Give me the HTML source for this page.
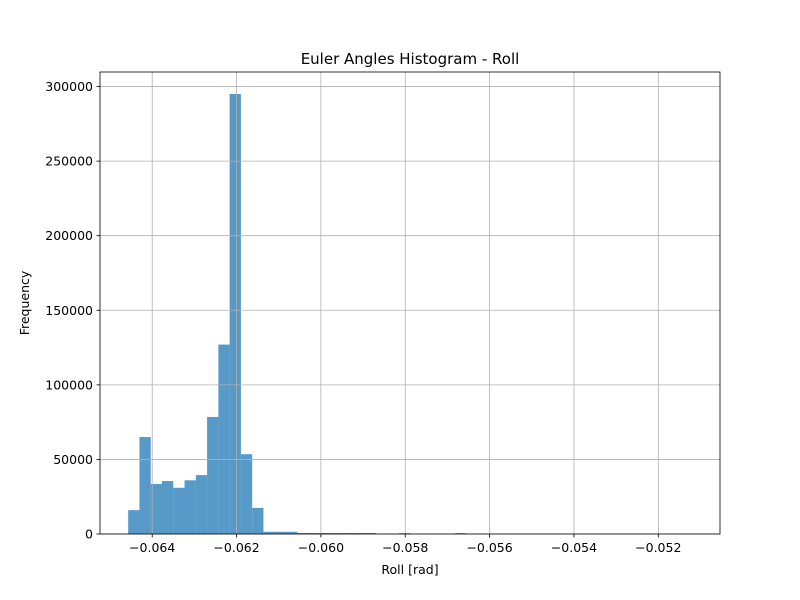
<!DOCTYPE html>
<html><head><meta charset="utf-8"><style>body{margin:0;background:#fff}svg{display:block;font-family:"DejaVu Sans","Liberation Sans",sans-serif}</style></head>
<body>
<svg id="chart" width="800" height="600" xmlns="http://www.w3.org/2000/svg">
<rect width="800" height="600" fill="#fff"/>
<text x="410" y="64" font-size="15" text-anchor="middle">Euler Angles Histogram - Roll</text>
<g id="bars"></g>
<g id="grid"></g>
<g id="axes"></g>
<text x="410" y="574" font-size="12.5" text-anchor="middle">Roll [rad]</text>
<text x="29" y="303" font-size="12.5" text-anchor="middle" transform="rotate(-90 29 303)">Frequency</text>
</svg>
<script>
const binStart = -0.06457;
const binWidth = 0.0002673;
const counts = [16000,65000,33500,35500,31000,36000,39500,78500,127000,295000,53500,17500,1500,1500,1500,700,700,700,700,700,700,700,0,0,600,0,0,0,0,600,0,0,0,0,0,0,0,0,0,0,0,0,0,0,0,0,0,0,0,0];
const xTicks = [-0.064,-0.062,-0.060,-0.058,-0.056,-0.054,-0.052];
const xTickLabels = ["−0.064","−0.062","−0.060","−0.058","−0.056","−0.054","−0.052"];
const yTicks = [0,50000,100000,150000,200000,250000,300000];
const L=100,R=720,T=72,B=534;
const dataMin=binStart, dataMax=binStart+binWidth*counts.length;
const span=dataMax-dataMin;
const xMin=dataMin-span*0.05, xMax=dataMax+span*0.05;
const yMax=Math.max(...counts)*1.05;
const xs=v=>L+(v-xMin)/(xMax-xMin)*(R-L);
const ys=v=>B-v/yMax*(B-T);
const NS="http://www.w3.org/2000/svg";
function mk(tag,attrs,parent){const e=document.createElementNS(NS,tag);for(const k in attrs)e.setAttribute(k,attrs[k]);parent.appendChild(e);return e;}
const grid=document.getElementById('grid'),bars=document.getElementById('bars'),axes=document.getElementById('axes');
xTicks.forEach((t,i)=>{const x=xs(t);
 const g=mk('line',{x1:x,x2:x,y1:T,y2:B,stroke:'#b0b0b0','stroke-width':0.8},grid);
 
 
 const tk=mk('line',{x1:x,x2:x,y1:B,y2:B+3.5,stroke:'#000','stroke-width':0.8},axes);
 
 
 const tx=mk('text',{x:x,y:B+18,'font-size':12.5,'text-anchor':'middle'},axes);tx.textContent=xTickLabels[i];
 
 
});
yTicks.forEach(t=>{const y=ys(t);
 const g=mk('line',{x1:L,x2:R,y1:y,y2:y,stroke:'#b0b0b0','stroke-width':0.8},grid);
 
 
 const tk=mk('line',{x1:L-3.5,x2:L,y1:y,y2:y,stroke:'#000','stroke-width':0.8},axes);
 
 
 const tx=mk('text',{x:L-7,y:y+4.5,'font-size':12.5,'text-anchor':'end'},axes);tx.textContent=String(t);
 
 
});
counts.forEach((c,i)=>{if(c<=0)return;const x0=xs(binStart+i*binWidth),x1=xs(binStart+(i+1)*binWidth);
 const r=mk('rect',{x:x0,y:ys(c),width:x1-x0,height:B-ys(c),fill:'#1f77b4','fill-opacity':0.75},bars);
 
 
});
const fr=mk('rect',{x:L,y:T,width:R-L,height:B-T,fill:'none',stroke:'#000','stroke-width':0.8},axes);


</script>
</body></html>
